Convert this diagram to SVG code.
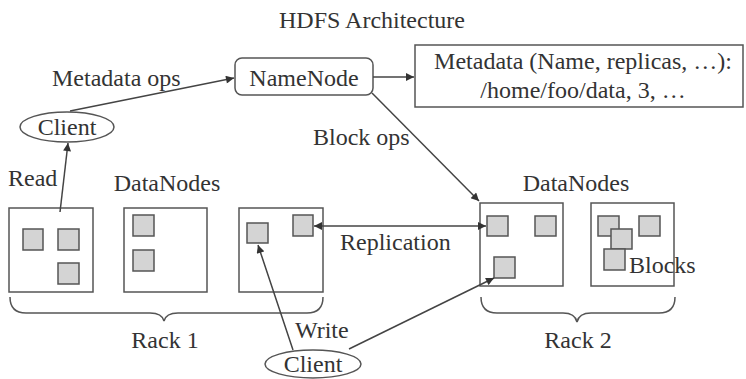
<svg xmlns="http://www.w3.org/2000/svg" width="746" height="379" viewBox="0 0 746 379">
<defs>
<marker id="ah" viewBox="0 0 10 10" refX="10" refY="5" markerWidth="10" markerHeight="8" markerUnits="userSpaceOnUse" orient="auto-start-reverse">
<path d="M0,0 L10,5 L0,10 z" fill="#333"/>
</marker>
<style>
text{font-family:'Liberation Serif','Times New Roman','DejaVu Serif',serif;font-size:24px;fill:#333}
.box{fill:#fff;stroke:#555;stroke-width:1.5}
.blk{fill:#d4d4d4;stroke:#555;stroke-width:1.5}
.ln{fill:none;stroke:#444;stroke-width:1.5}
.br{fill:none;stroke:#555;stroke-width:1.5}
</style>
</defs>
<rect width="746" height="379" fill="#fff"/>
<g font-family="Liberation Serif, serif">
<text x="372" y="28" text-anchor="middle">HDFS Architecture</text>

<g id="namenode">
<rect class="box" x="235" y="58" width="138" height="37" rx="7"/>
<text x="304" y="86" text-anchor="middle">NameNode</text>
</g>
<g id="metadata">
<rect class="box" x="415" y="45" width="328" height="62"/>
<text x="583" y="69" text-anchor="middle">Metadata (Name, replicas, …):</text>
<text x="583" y="98" text-anchor="middle">/home/foo/data, 3, …</text>
</g>
<g id="client-read">
<ellipse class="box" cx="67" cy="127" rx="47" ry="15"/>
<text x="67" y="135" text-anchor="middle">Client</text>
</g>
<g id="client-write">
<ellipse class="box" cx="313" cy="364" rx="48" ry="14"/>
<text x="313" y="372" text-anchor="middle">Client</text>
</g>

<g id="rack1">
<text x="167" y="191" text-anchor="middle">DataNodes</text>
<g id="dn1">
<rect class="box" x="9" y="208" width="84" height="84"/>
<rect class="blk" x="23" y="229" width="20" height="21"/>
<rect class="blk" x="58" y="229" width="21" height="21"/>
<rect class="blk" x="58" y="263" width="21" height="21"/>
</g>
<g id="dn2">
<rect class="box" x="124" y="208" width="83" height="84"/>
<rect class="blk" x="133" y="215" width="21" height="21"/>
<rect class="blk" x="133" y="250" width="21" height="21"/>
</g>
<g id="dn3">
<rect class="box" x="239" y="208" width="84" height="84"/>
<rect class="blk" x="247" y="223" width="21" height="20"/>
<rect class="blk" x="293" y="215" width="20" height="21"/>
</g>
<path class="br" d="M10,297 Q10,313 26,313 L150,313 Q162,313 164,321 Q166,313 178,313 L307,313 Q323,313 323,297"/>
<text x="165" y="348" text-anchor="middle">Rack 1</text>
</g>

<g id="rack2">
<text x="576" y="191" text-anchor="middle">DataNodes</text>
<g id="dn4">
<rect class="box" x="480" y="203" width="83" height="83"/>
<rect class="blk" x="487" y="216" width="21" height="20"/>
<rect class="blk" x="535" y="216" width="21" height="20"/>
<rect class="blk" x="494" y="257" width="21" height="21"/>
</g>
<g id="dn5">
<rect class="box" x="591" y="203" width="83" height="83"/>
<rect class="blk" x="598" y="216" width="21" height="20"/>
<rect class="blk" x="639" y="216" width="21" height="20"/>
<rect class="blk" x="611" y="229" width="21" height="20"/>
<rect class="blk" x="604" y="249" width="21" height="21"/>
<text x="629" y="273">Blocks</text>
</g>
<path class="br" d="M481,297 Q481,313 497,313 L563,313 Q575,313 577,322 Q579,313 591,313 L659,313 Q675,313 675,297"/>
<text x="578" y="348" text-anchor="middle">Rack 2</text>
</g>

<g id="connectors">
<line class="ln" x1="70" y1="111" x2="234" y2="78" marker-end="url(#ah)"/>
<line class="ln" x1="373" y1="77" x2="414" y2="77" marker-end="url(#ah)"/>
<line class="ln" x1="372" y1="93" x2="479" y2="201" marker-end="url(#ah)"/>
<line class="ln" x1="60" y1="212" x2="68" y2="143" marker-end="url(#ah)"/>
<line class="ln" x1="314" y1="226" x2="486" y2="226" marker-start="url(#ah)" marker-end="url(#ah)"/>
<line class="ln" x1="293" y1="350" x2="258" y2="245" marker-end="url(#ah)"/>
<line class="ln" x1="349" y1="349" x2="494" y2="278" marker-end="url(#ah)"/>
</g>
<g id="labels">
<text x="52" y="86">Metadata ops</text>
<text x="313" y="145">Block ops</text>
<text x="8" y="186">Read</text>
<text x="340" y="250">Replication</text>
<text x="295" y="338">Write</text>
</g>
</g>
</svg>
